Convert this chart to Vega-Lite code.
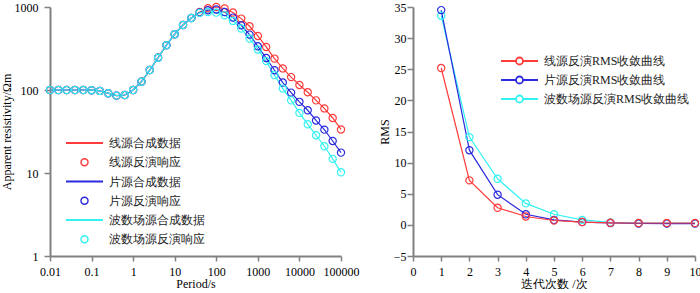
{
  "$schema": "https://vega.github.io/schema/vega-lite/v6.json",
  "padding": {"left": 0, "top": 0, "right": 0, "bottom": 0},
  "bounds": "flush",
  "spacing": 72,
  "resolve": {"scale": {"color": "independent"}, "legend": {"color": "independent"}},
  "config": {
    "view": {"stroke": null},
    "font": "Liberation Serif",
    "axis": {
      "grid": false,
      "domainColor": "#808080",
      "domainWidth": 2,
      "tickColor": "#808080",
      "tickWidth": 1.5,
      "tickSize": 5,
      "labelFont": "Liberation Serif",
      "titleFont": "Liberation Serif",
      "labelFontSize": 12,
      "titleFontSize": 12,
      "titleFontWeight": "normal",
      "labelColor": "#000000",
      "titleColor": "#000000",
      "labelPadding": 3,
      "labelOverlap": false,
      "labelBound": false,
      "labelFlush": false
    },
    "legend": {
      "labelFont": "Liberation Serif",
      "labelFontSize": 12,
      "labelColor": "#222222",
      "padding": 0
    }
  },
  "datasets": {
    "mt": [
      {"period": 0.01, "syn": "线源合成数据", "inv": "线源反演响应", "rho": 100},
      {"period": 0.015849, "syn": "线源合成数据", "inv": "线源反演响应", "rho": 100},
      {"period": 0.025119, "syn": "线源合成数据", "inv": "线源反演响应", "rho": 100},
      {"period": 0.039811, "syn": "线源合成数据", "inv": "线源反演响应", "rho": 100},
      {"period": 0.063096, "syn": "线源合成数据", "inv": "线源反演响应", "rho": 100},
      {"period": 0.1, "syn": "线源合成数据", "inv": "线源反演响应", "rho": 99.5},
      {"period": 0.15849, "syn": "线源合成数据", "inv": "线源反演响应", "rho": 97.5},
      {"period": 0.25119, "syn": "线源合成数据", "inv": "线源反演响应", "rho": 91.5},
      {"period": 0.39811, "syn": "线源合成数据", "inv": "线源反演响应", "rho": 85.5},
      {"period": 0.63096, "syn": "线源合成数据", "inv": "线源反演响应", "rho": 87},
      {"period": 1, "syn": "线源合成数据", "inv": "线源反演响应", "rho": 100},
      {"period": 1.5849, "syn": "线源合成数据", "inv": "线源反演响应", "rho": 126},
      {"period": 2.5119, "syn": "线源合成数据", "inv": "线源反演响应", "rho": 174},
      {"period": 3.9811, "syn": "线源合成数据", "inv": "线源反演响应", "rho": 245},
      {"period": 6.3096, "syn": "线源合成数据", "inv": "线源反演响应", "rho": 347},
      {"period": 10, "syn": "线源合成数据", "inv": "线源反演响应", "rho": 470},
      {"period": 15.849, "syn": "线源合成数据", "inv": "线源反演响应", "rho": 608},
      {"period": 25.119, "syn": "线源合成数据", "inv": "线源反演响应", "rho": 738},
      {"period": 39.811, "syn": "线源合成数据", "inv": "线源反演响应", "rho": 870},
      {"period": 63.096, "syn": "线源合成数据", "inv": "线源反演响应", "rho": 965},
      {"period": 100, "syn": "线源合成数据", "inv": "线源反演响应", "rho": 1000},
      {"period": 158.49, "syn": "线源合成数据", "inv": "线源反演响应", "rho": 960},
      {"period": 251.19, "syn": "线源合成数据", "inv": "线源反演响应", "rho": 857},
      {"period": 398.11, "syn": "线源合成数据", "inv": "线源反演响应", "rho": 725},
      {"period": 630.96, "syn": "线源合成数据", "inv": "线源反演响应", "rho": 586},
      {"period": 1000, "syn": "线源合成数据", "inv": "线源反演响应", "rho": 448},
      {"period": 1584.9, "syn": "线源合成数据", "inv": "线源反演响应", "rho": 330},
      {"period": 2511.9, "syn": "线源合成数据", "inv": "线源反演响应", "rho": 239},
      {"period": 3981.1, "syn": "线源合成数据", "inv": "线源反演响应", "rho": 182},
      {"period": 6309.6, "syn": "线源合成数据", "inv": "线源反演响应", "rho": 143},
      {"period": 10000, "syn": "线源合成数据", "inv": "线源反演响应", "rho": 115},
      {"period": 15849, "syn": "线源合成数据", "inv": "线源反演响应", "rho": 94},
      {"period": 25119, "syn": "线源合成数据", "inv": "线源反演响应", "rho": 75},
      {"period": 39811, "syn": "线源合成数据", "inv": "线源反演响应", "rho": 60},
      {"period": 63096, "syn": "线源合成数据", "inv": "线源反演响应", "rho": 46},
      {"period": 100000, "syn": "线源合成数据", "inv": "线源反演响应", "rho": 33.5},
      {"period": 0.01, "syn": "片源合成数据", "inv": "片源反演响应", "rho": 100},
      {"period": 0.015849, "syn": "片源合成数据", "inv": "片源反演响应", "rho": 100},
      {"period": 0.025119, "syn": "片源合成数据", "inv": "片源反演响应", "rho": 100},
      {"period": 0.039811, "syn": "片源合成数据", "inv": "片源反演响应", "rho": 100},
      {"period": 0.063096, "syn": "片源合成数据", "inv": "片源反演响应", "rho": 100},
      {"period": 0.1, "syn": "片源合成数据", "inv": "片源反演响应", "rho": 99.5},
      {"period": 0.15849, "syn": "片源合成数据", "inv": "片源反演响应", "rho": 97.5},
      {"period": 0.25119, "syn": "片源合成数据", "inv": "片源反演响应", "rho": 91.5},
      {"period": 0.39811, "syn": "片源合成数据", "inv": "片源反演响应", "rho": 85.5},
      {"period": 0.63096, "syn": "片源合成数据", "inv": "片源反演响应", "rho": 87},
      {"period": 1, "syn": "片源合成数据", "inv": "片源反演响应", "rho": 100},
      {"period": 1.5849, "syn": "片源合成数据", "inv": "片源反演响应", "rho": 126},
      {"period": 2.5119, "syn": "片源合成数据", "inv": "片源反演响应", "rho": 174},
      {"period": 3.9811, "syn": "片源合成数据", "inv": "片源反演响应", "rho": 245},
      {"period": 6.3096, "syn": "片源合成数据", "inv": "片源反演响应", "rho": 347},
      {"period": 10, "syn": "片源合成数据", "inv": "片源反演响应", "rho": 470},
      {"period": 15.849, "syn": "片源合成数据", "inv": "片源反演响应", "rho": 608},
      {"period": 25.119, "syn": "片源合成数据", "inv": "片源反演响应", "rho": 738},
      {"period": 39.811, "syn": "片源合成数据", "inv": "片源反演响应", "rho": 860},
      {"period": 63.096, "syn": "片源合成数据", "inv": "片源反演响应", "rho": 915},
      {"period": 100, "syn": "片源合成数据", "inv": "片源反演响应", "rho": 935},
      {"period": 158.49, "syn": "片源合成数据", "inv": "片源反演响应", "rho": 870},
      {"period": 251.19, "syn": "片源合成数据", "inv": "片源反演响应", "rho": 745},
      {"period": 398.11, "syn": "片源合成数据", "inv": "片源反演响应", "rho": 602},
      {"period": 630.96, "syn": "片源合成数据", "inv": "片源反演响应", "rho": 465},
      {"period": 1000, "syn": "片源合成数据", "inv": "片源反演响应", "rho": 336},
      {"period": 1584.9, "syn": "片源合成数据", "inv": "片源反演响应", "rho": 243},
      {"period": 2511.9, "syn": "片源合成数据", "inv": "片源反演响应", "rho": 173},
      {"period": 3981.1, "syn": "片源合成数据", "inv": "片源反演响应", "rho": 123},
      {"period": 6309.6, "syn": "片源合成数据", "inv": "片源反演响应", "rho": 93},
      {"period": 10000, "syn": "片源合成数据", "inv": "片源反演响应", "rho": 72},
      {"period": 15849, "syn": "片源合成数据", "inv": "片源反演响应", "rho": 57},
      {"period": 25119, "syn": "片源合成数据", "inv": "片源反演响应", "rho": 43},
      {"period": 39811, "syn": "片源合成数据", "inv": "片源反演响应", "rho": 33.3},
      {"period": 63096, "syn": "片源合成数据", "inv": "片源反演响应", "rho": 24.3},
      {"period": 100000, "syn": "片源合成数据", "inv": "片源反演响应", "rho": 17.6},
      {"period": 0.01, "syn": "波数场源合成数据", "inv": "波数场源反演响应", "rho": 100},
      {"period": 0.015849, "syn": "波数场源合成数据", "inv": "波数场源反演响应", "rho": 100},
      {"period": 0.025119, "syn": "波数场源合成数据", "inv": "波数场源反演响应", "rho": 100},
      {"period": 0.039811, "syn": "波数场源合成数据", "inv": "波数场源反演响应", "rho": 100},
      {"period": 0.063096, "syn": "波数场源合成数据", "inv": "波数场源反演响应", "rho": 100},
      {"period": 0.1, "syn": "波数场源合成数据", "inv": "波数场源反演响应", "rho": 99.5},
      {"period": 0.15849, "syn": "波数场源合成数据", "inv": "波数场源反演响应", "rho": 97.5},
      {"period": 0.25119, "syn": "波数场源合成数据", "inv": "波数场源反演响应", "rho": 91.5},
      {"period": 0.39811, "syn": "波数场源合成数据", "inv": "波数场源反演响应", "rho": 85.5},
      {"period": 0.63096, "syn": "波数场源合成数据", "inv": "波数场源反演响应", "rho": 87},
      {"period": 1, "syn": "波数场源合成数据", "inv": "波数场源反演响应", "rho": 100},
      {"period": 1.5849, "syn": "波数场源合成数据", "inv": "波数场源反演响应", "rho": 126},
      {"period": 2.5119, "syn": "波数场源合成数据", "inv": "波数场源反演响应", "rho": 174},
      {"period": 3.9811, "syn": "波数场源合成数据", "inv": "波数场源反演响应", "rho": 245},
      {"period": 6.3096, "syn": "波数场源合成数据", "inv": "波数场源反演响应", "rho": 347},
      {"period": 10, "syn": "波数场源合成数据", "inv": "波数场源反演响应", "rho": 470},
      {"period": 15.849, "syn": "波数场源合成数据", "inv": "波数场源反演响应", "rho": 608},
      {"period": 25.119, "syn": "波数场源合成数据", "inv": "波数场源反演响应", "rho": 738},
      {"period": 39.811, "syn": "波数场源合成数据", "inv": "波数场源反演响应", "rho": 850},
      {"period": 63.096, "syn": "波数场源合成数据", "inv": "波数场源反演响应", "rho": 870},
      {"period": 100, "syn": "波数场源合成数据", "inv": "波数场源反演响应", "rho": 855},
      {"period": 158.49, "syn": "波数场源合成数据", "inv": "波数场源反演响应", "rho": 794},
      {"period": 251.19, "syn": "波数场源合成数据", "inv": "波数场源反演响应", "rho": 680},
      {"period": 398.11, "syn": "波数场源合成数据", "inv": "波数场源反演响应", "rho": 550},
      {"period": 630.96, "syn": "波数场源合成数据", "inv": "波数场源反演响应", "rho": 417},
      {"period": 1000, "syn": "波数场源合成数据", "inv": "波数场源反演响应", "rho": 308},
      {"period": 1584.9, "syn": "波数场源合成数据", "inv": "波数场源反演响应", "rho": 223},
      {"period": 2511.9, "syn": "波数场源合成数据", "inv": "波数场源反演响应", "rho": 151},
      {"period": 3981.1, "syn": "波数场源合成数据", "inv": "波数场源反演响应", "rho": 104},
      {"period": 6309.6, "syn": "波数场源合成数据", "inv": "波数场源反演响应", "rho": 75},
      {"period": 10000, "syn": "波数场源合成数据", "inv": "波数场源反演响应", "rho": 53},
      {"period": 15849, "syn": "波数场源合成数据", "inv": "波数场源反演响应", "rho": 38.6},
      {"period": 25119, "syn": "波数场源合成数据", "inv": "波数场源反演响应", "rho": 28.5},
      {"period": 39811, "syn": "波数场源合成数据", "inv": "波数场源反演响应", "rho": 21},
      {"period": 63096, "syn": "波数场源合成数据", "inv": "波数场源反演响应", "rho": 14.8},
      {"period": 100000, "syn": "波数场源合成数据", "inv": "波数场源反演响应", "rho": 10.2}
    ],
    "conv": [
      {"iter": 1, "series": "波数场源反演RMS收敛曲线", "rms": 33.6},
      {"iter": 2, "series": "波数场源反演RMS收敛曲线", "rms": 14.1},
      {"iter": 3, "series": "波数场源反演RMS收敛曲线", "rms": 7.4},
      {"iter": 4, "series": "波数场源反演RMS收敛曲线", "rms": 3.45},
      {"iter": 5, "series": "波数场源反演RMS收敛曲线", "rms": 1.7},
      {"iter": 6, "series": "波数场源反演RMS收敛曲线", "rms": 0.8},
      {"iter": 7, "series": "波数场源反演RMS收敛曲线", "rms": 0.4},
      {"iter": 8, "series": "波数场源反演RMS收敛曲线", "rms": 0.3},
      {"iter": 9, "series": "波数场源反演RMS收敛曲线", "rms": 0.28},
      {"iter": 10, "series": "波数场源反演RMS收敛曲线", "rms": 0.28},
      {"iter": 1, "series": "片源反演RMS收敛曲线", "rms": 34.5},
      {"iter": 2, "series": "片源反演RMS收敛曲线", "rms": 12.0},
      {"iter": 3, "series": "片源反演RMS收敛曲线", "rms": 4.85},
      {"iter": 4, "series": "片源反演RMS收敛曲线", "rms": 1.7},
      {"iter": 5, "series": "片源反演RMS收敛曲线", "rms": 0.8},
      {"iter": 6, "series": "片源反演RMS收敛曲线", "rms": 0.45},
      {"iter": 7, "series": "片源反演RMS收敛曲线", "rms": 0.3},
      {"iter": 8, "series": "片源反演RMS收敛曲线", "rms": 0.22},
      {"iter": 9, "series": "片源反演RMS收敛曲线", "rms": 0.2},
      {"iter": 10, "series": "片源反演RMS收敛曲线", "rms": 0.2},
      {"iter": 1, "series": "线源反演RMS收敛曲线", "rms": 25.2},
      {"iter": 2, "series": "线源反演RMS收敛曲线", "rms": 7.15},
      {"iter": 3, "series": "线源反演RMS收敛曲线", "rms": 2.75},
      {"iter": 4, "series": "线源反演RMS收敛曲线", "rms": 1.35},
      {"iter": 5, "series": "线源反演RMS收敛曲线", "rms": 0.7},
      {"iter": 6, "series": "线源反演RMS收敛曲线", "rms": 0.45},
      {"iter": 7, "series": "线源反演RMS收敛曲线", "rms": 0.33},
      {"iter": 8, "series": "线源反演RMS收敛曲线", "rms": 0.3},
      {"iter": 9, "series": "线源反演RMS收敛曲线", "rms": 0.3},
      {"iter": 10, "series": "线源反演RMS收敛曲线", "rms": 0.3}
    ]
  },
  "hconcat": [
    {
      "width": 291,
      "height": 249,
      "data": {"name": "mt"},
      "resolve": {"scale": {"color": "independent"}, "legend": {"color": "independent"}},
      "encoding": {
        "x": {
          "field": "period", "type": "quantitative",
          "scale": {"type": "log", "domain": [0.01, 100000], "nice": false},
          "axis": {"title": "Period/s", "values": [0.01, 0.1, 1, 10, 100, 1000, 10000, 100000], "format": "~g", "tickSize": 5, "labelPadding": 5, "titlePadding": 1}
        },
        "y": {
          "field": "rho", "type": "quantitative",
          "scale": {"type": "log", "domain": [1, 1000], "nice": false},
          "axis": {"title": "Apparent resistivity/Ωm", "values": [1, 10, 100, 1000], "format": "~g", "tickSize": 6, "labelPadding": 6, "titlePadding": 1}
        }
      },
      "layer": [
        {
          "mark": {"type": "line", "strokeWidth": 1.2},
          "encoding": {
            "color": {
              "field": "syn", "type": "nominal",
              "scale": {
                "domain": ["线源合成数据", "片源合成数据", "波数场源合成数据"],
                "range": ["#ff3b3b", "#2b2bdd", "#33f2f2"]
              },
              "legend": {
                "title": null,
                "orient": "none",
                "legendX": 15,
                "legendY": 129,
                "symbolType": "stroke",
                "symbolSize": 1369,
                "symbolStrokeWidth": 2,
                "clipHeight": 14,
                "rowPadding": 24.5,
                "labelOffset": 5
              }
            }
          }
        },
        {
          "mark": {"type": "point", "shape": "circle", "filled": false, "size": 52, "strokeWidth": 1.2, "opacity": 1},
          "encoding": {
            "color": {
              "field": "inv", "type": "nominal",
              "scale": {
                "domain": ["线源反演响应", "片源反演响应", "波数场源反演响应"],
                "range": ["#ff3b3b", "#2b2bdd", "#33f2f2"]
              },
              "legend": {
                "title": null,
                "orient": "none",
                "legendX": 28.5,
                "legendY": 148.25,
                "symbolType": "circle",
                "symbolSize": 50,
                "symbolStrokeWidth": 1.4,
                "clipHeight": 14,
                "rowPadding": 24.5,
                "labelOffset": 18.5
              }
            }
          }
        }
      ]
    },
    {
      "width": 282,
      "height": 249,
      "data": {"name": "conv"},
      "encoding": {
        "x": {
          "field": "iter", "type": "quantitative",
          "scale": {"domain": [0, 10], "nice": false},
          "axis": {"title": "迭代次数 /次", "values": [0, 1, 2, 3, 4, 5, 6, 7, 8, 9, 10], "tickSize": 5, "labelPadding": 5, "titlePadding": 1}
        },
        "y": {
          "field": "rms", "type": "quantitative",
          "scale": {"domain": [-5, 35], "nice": false, "zero": false},
          "axis": {"title": "RMS", "values": [-5, 0, 5, 10, 15, 20, 25, 30, 35], "tickSize": 6, "labelPadding": 1, "titlePadding": 2}
        },
        "color": {
          "field": "series", "type": "nominal",
          "scale": {
            "domain": ["线源反演RMS收敛曲线", "片源反演RMS收敛曲线", "波数场源反演RMS收敛曲线"],
            "range": ["#ff3b3b", "#2b2bdd", "#33f2f2"]
          },
          "legend": {
            "title": null,
            "orient": "none",
            "legendX": 87,
            "legendY": 47,
            "symbolSize": 1369,
            "clipHeight": 14,
            "rowPadding": 5,
            "labelOffset": 5,
            "symbolType": "M-1,0L-0.19,0M0.19,0L1,0M0.19,0A0.19,0.19,0,1,1,-0.19,0A0.19,0.19,0,1,1,0.19,0",
            "symbolStrokeWidth": 1.8
          }
        }
      },
      "layer": [
        {"mark": {"type": "line", "strokeWidth": 1.2}},
        {"mark": {"type": "point", "shape": "circle", "filled": false, "size": 52, "strokeWidth": 1.2, "opacity": 1}}
      ]
    }
  ]
}
